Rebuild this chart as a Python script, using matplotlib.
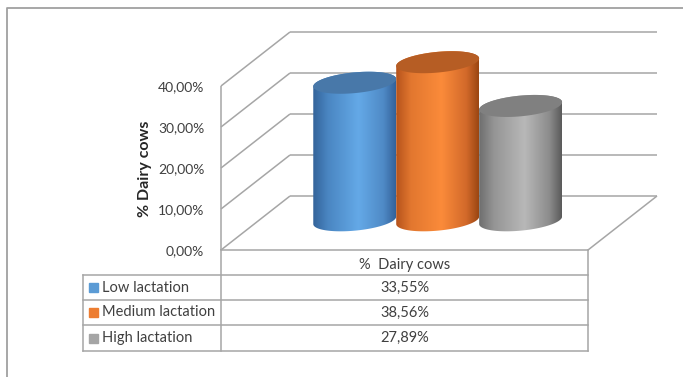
import numpy as np
import matplotlib
matplotlib.use("Agg")
import matplotlib.pyplot as plt
from matplotlib.patches import Polygon, Rectangle
from matplotlib.colors import LinearSegmentedColormap

# ---- data -------------------------------------------------------------
categories = ["Low lactation", "Medium lactation", "High lactation"]
values = [33.55, 38.56, 27.89]          # % of dairy cows
series_name = "% Dairy cows"
table_header = "%  Dairy cows"
yticks = [0, 10, 20, 30, 40]
ytick_labels = [f"{v:.2f}%".replace(".", ",") for v in yticks]
value_labels = [f"{v:.2f}%".replace(".", ",") for v in values]

# ---- styling -----------------------------------------------------------
legend_colors = ["#5b9bd5", "#ed7d31", "#a5a5a5"]
top_colors = ["#4878a9", "#b65d24", "#808080"]
body_stops = [
    ["#33639a", "#4a86c2", "#64a9e7", "#4f8ac6", "#33629a"],
    ["#b5531c", "#e2772f", "#fb8b3a", "#d2692a", "#9a4612"],
    ["#6e6e6e", "#959595", "#b8b8b8", "#8c8c8c", "#5a5a5a"],
]
stop_pos = [0.0, 0.18, 0.55, 0.85, 1.0]
grid_color = "#a6a6a6"
text_color = "#404040"
fs_tick = 10
fs_table = 10.5
fs_title = 11.5

plt.rcParams["font.family"] = ["Lato", "DejaVu Sans"]

W, H = 683, 377
fig = plt.figure(figsize=(W / 100, H / 100), dpi=100)

# overlay in pixel units for the frame and the data table
ov = fig.add_axes([0, 0, 1, 1])
ov.set_xlim(0, W)
ov.set_ylim(H, 0)
ov.axis("off")

# 3-D chart axes: x runs 0..1 across the front of the floor, y is the value (%)
PX_X0, PX_FW = 221, 367          # front-left corner and floor width in px
PX_Y0, PX_PER = 250, 4.1         # zero line and px per percentage point
ax = fig.add_axes([0, 0, 1, 1])
XLIM = (-PX_X0 / PX_FW, (W - PX_X0) / PX_FW)
YLIM = (-(H - PX_Y0) / PX_PER, PX_Y0 / PX_PER)
ax.patch.set_visible(False)
for s in ["top", "right", "bottom"]:
    ax.spines[s].set_visible(False)
ax.spines["left"].set_position(("data", 0))
ax.spines["left"].set_visible(False)
ax.set_xticks([])
ax.set_yticks(yticks, labels=ytick_labels)
ax.tick_params(axis="y", length=0, pad=12, labelsize=fs_tick, labelcolor=text_color)
ax.set_ylabel(series_name, fontsize=fs_title, fontweight="bold", color="#262626")
ax.yaxis.set_label_coords(152 / W, 1 - 169 / H)

# oblique depth offset (one full depth unit) in data units
DXW = 69 / PX_FW
DVW = 54 / PX_PER


def proj(x, v, z):
    return x + z * DXW, v + z * DVW


def seg(p, q, **kw):
    ax.plot([p[0], q[0]], [p[1], q[1]], color=grid_color, lw=1.1,
            solid_capstyle="butt", clip_on=False, **kw)


# walls and floor
vmax = max(yticks)
for v in yticks:
    seg(proj(0, v, 1), proj(1, v, 1))
    seg(proj(0, v, 0), proj(0, v, 1))
seg(proj(0, 0, 0), proj(0, vmax, 0))
seg(proj(1, 0, 0), proj(1, 0, 1))

# cylinders
n = len(values)
centers = 0.487 + (np.arange(n) - (n - 1) / 2) * 0.226
RX = 39 / PX_FW      # radius across (x units)
RZ = 0.204           # radius in depth units
ZC = 0.55            # depth of cylinder axis


def ring(xc, v, t):
    z = ZC + RZ * np.sin(t)
    x = xc + RX * np.cos(t)
    return proj(x, v, z)


t0 = np.arctan2(RZ * DXW, RX)
front = np.linspace(t0 + np.pi, t0 + 2 * np.pi, 200)
back = np.linspace(t0, t0 + np.pi, 200)
full = np.linspace(0, 2 * np.pi, 300)

grad = np.linspace(0, 1, 256)[np.newaxis, :]
draw_order = [0, 2, 1]
for i in draw_order:
    xc, val = centers[i], values[i]
    bx, by = ring(xc, 0, front)
    tx, ty = ring(xc, val, back)
    body = np.column_stack([np.r_[bx, tx], np.r_[by, ty]])
    patch = Polygon(body, closed=True, facecolor="none", edgecolor="none",
                    clip_on=False, zorder=3)
    ax.add_patch(patch)
    cmap = LinearSegmentedColormap.from_list(
        f"cyl{i}", list(zip(stop_pos, body_stops[i])))
    im = ax.imshow(grad, cmap=cmap, aspect="auto", interpolation="bilinear",
                   extent=(bx.min(), bx.max(), by.min() - 1, ty.max() + 1),
                   zorder=3)
    im.set_clip_path(patch)
    ex, ey = ring(xc, val, full)
    ax.add_patch(Polygon(np.column_stack([ex, ey]), closed=True,
                         facecolor=top_colors[i], edgecolor="none",
                         clip_on=False, zorder=3))

ax.set_xlim(*XLIM)
ax.set_ylim(*YLIM)

# ---- outer frame ------------------------------------------------------
ov.plot([7, 7, W], [H, 8, 8], color="#a0a0a0", lw=1.3)

# ---- data table ------------------------------------------------------
tl, tc, tr = 83, 221, 588
row_edges = [275, 300, 325, 351]
lk = dict(color=grid_color, lw=1.1)
ov.plot([tc, tr], [250, 250], **lk)
for y in row_edges:
    ov.plot([tl, tr], [y, y], **lk)
ov.plot([tl, tl], [row_edges[0], row_edges[-1]], **lk)
ov.plot([tc, tc], [250, row_edges[-1]], **lk)
ov.plot([tr, tr], [250, row_edges[-1]], **lk)

ov.text((tc + tr) / 2, 265, table_header, ha="center", va="center",
        fontsize=fs_table, color=text_color)
for i, (cat, lab) in enumerate(zip(categories, value_labels)):
    yc = (row_edges[i] + row_edges[i + 1]) / 2
    ov.add_patch(Rectangle((89, yc - 4.5), 9, 9, color=legend_colors[i]))
    ov.text(102, yc, cat, ha="left", va="center", fontsize=fs_table, color=text_color)
    ov.text((tc + tr) / 2, yc, lab, ha="center", va="center",
            fontsize=fs_table, color=text_color)

fig.savefig("out.png", dpi=100)
